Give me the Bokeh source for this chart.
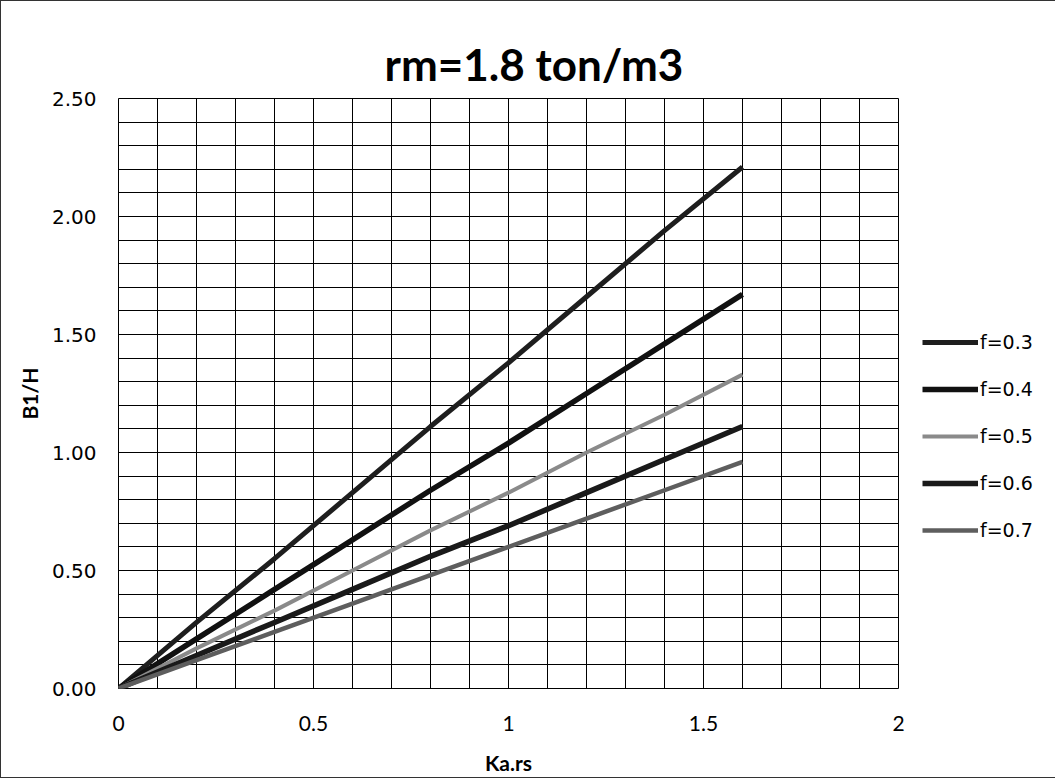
from bokeh.plotting import figure
from bokeh.models import (FixedTicker, NumeralTickFormatter, Legend, LegendItem, Range1d)
from bokeh.embed import file_html
from bokeh.resources import INLINE

# ---- data ----
x_vals = [0.0, 0.2, 0.4, 0.6, 0.8, 1.0, 1.2, 1.4, 1.6]
f03 = [0.00, 0.28, 0.55, 0.83, 1.11, 1.38, 1.66, 1.94, 2.21]
f04 = [0.00, 0.21, 0.42, 0.63, 0.84, 1.04, 1.25, 1.46, 1.67]
f05 = [0.00, 0.17, 0.33, 0.50, 0.67, 0.83, 1.00, 1.16, 1.33]
f06 = [0.00, 0.14, 0.28, 0.42, 0.56, 0.69, 0.83, 0.97, 1.11]
f07 = [0.00, 0.12, 0.24, 0.36, 0.48, 0.60, 0.72, 0.84, 0.96]
series_names = ["f=0.3", "f=0.4", "f=0.5", "f=0.6", "f=0.7"]
series_vals = [f03, f04, f05, f06, f07]
series_colors = ["#1e1e1e", "#111111", "#8a8a8a", "#1a1a1a", "#5e5e5e"]
series_widths = [5, 5.5, 4, 5.5, 4.5]

x_major = [0, 0.5, 1, 1.5, 2]
x_minor = [i / 10 for i in range(21)]
y_major = [0, 0.5, 1.0, 1.5, 2.0, 2.5]
y_minor = [i / 10 for i in range(26)]

p = figure(output_backend="svg", toolbar_location=None,
           frame_width=780, frame_height=590,
           min_border_left=117, min_border_top=97, min_border_bottom=88,
           min_border_right=150,
           x_range=Range1d(0, 2), y_range=Range1d(0, 2.5),
           title="rm=1.8 ton/m3")

p.title.align = "left"
p.title.offset = 266
p.title.text_font = "Lato"
p.title.text_font_style = "bold"
p.title.text_font_size = "44px"
p.title.text_color = "black"
p.title.standoff = 17

renderers = []
for name, vals, col, w in zip(series_names, series_vals, series_colors, series_widths):
    r = p.line(x_vals, vals, line_color=col, line_width=w)
    renderers.append((name, r))

p.xaxis.ticker = FixedTicker(ticks=x_major, minor_ticks=x_minor)
p.yaxis.ticker = FixedTicker(ticks=y_major, minor_ticks=y_minor)
p.xaxis.formatter = NumeralTickFormatter(format="0[.][0]")
p.yaxis.formatter = NumeralTickFormatter(format="0.00")

for ax in (p.xaxis[0], p.yaxis[0]):
    ax.axis_line_color = None
    ax.major_tick_line_color = None
    ax.minor_tick_line_color = None
    ax.major_label_text_color = "black"
    ax.axis_label_text_color = "black"
    ax.axis_label_text_font_style = "bold"
    ax.axis_label_text_font_size = "21px"
    ax.axis_label_text_font = "Lato"

p.xaxis.axis_label = "Ka.rs"
p.yaxis.axis_label = "B1/H"
p.xaxis.major_label_text_font = "Lato"
p.xaxis.major_label_text_font_size = "21px"
p.xaxis.major_label_standoff = 21
p.xaxis.axis_label_standoff = 16
p.yaxis.major_label_text_font = "DejaVu Sans"
p.yaxis.major_label_text_font_size = "20px"
p.yaxis.major_label_standoff = 16
p.yaxis.axis_label_standoff = 7

for g in (p.xgrid[0], p.ygrid[0]):
    g.grid_line_color = "black"
    g.grid_line_alpha = 1.0
    g.grid_line_width = 1
    g.minor_grid_line_color = "black"
    g.minor_grid_line_width = 1

p.outline_line_color = "black"
p.outline_line_width = 1
p.background_fill_color = "white"
p.border_fill_color = "white"

legend = Legend(items=[LegendItem(label=n, renderers=[r]) for n, r in renderers],
                location=(24, 147), orientation="vertical",
                border_line_color=None, background_fill_alpha=0,
                padding=0, margin=0, spacing=25,
                glyph_width=56, glyph_height=20, label_standoff=2,
                label_text_font="DejaVu Sans", label_text_font_size="19px",
                label_text_color="black")
p.add_layout(legend, "right")

p.styles = {"border": "1px solid #333"}

open("out.html", "w").write(file_html(p, INLINE))
